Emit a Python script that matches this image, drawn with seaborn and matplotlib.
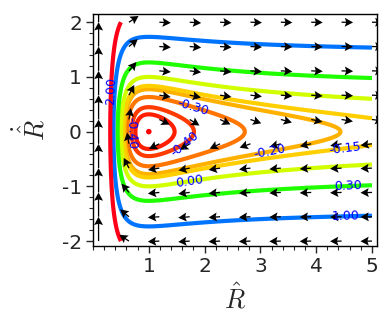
import numpy as np
import matplotlib
matplotlib.use("Agg")
import matplotlib.pyplot as plt
from matplotlib.ticker import MultipleLocator
import seaborn as sns
import pandas as pd

# Energy levels of the radial motion, E = Rdot^2/2 + 1/(2R^2) - 1/R
energy_levels = [-0.45, -0.40, -0.30, -0.20, -0.15, 0.00, 0.30, 1.00, 2.00]
energy_min = -0.5          # energy of the circular orbit (colour scale start)

# Where each contour label sits (R, Rdot), one per level above
label_R = [0.72, 1.65, 1.79, 3.17, 4.52, 1.74, 4.57, 4.52, 0.27]
label_Rdot = [-0.02, -0.24, 0.44, -0.38, -0.31, -0.93, -1.02, -1.59, 0.75]

# Circular orbit (fixed point of the flow)
fixed_R = [1.0]
fixed_Rdot = [0.0]

# Domain of the phase portrait and the arrow grid
R_span = [0.1, 5.0]
Rdot_span = [-2.0, 2.0]
n_arrows = 10

x_ticks = [1, 2, 3, 4, 5]
y_ticks = [-2, -1, 0, 1, 2]


def energy(R, Rd):
    return 0.5 * Rd ** 2 + 0.5 / R ** 2 - 1.0 / R


def flow(R, Rd):
    return Rd, 1.0 / R ** 3 - 1.0 / R ** 2


sns.set_style("ticks")
plt.rcParams["axes.unicode_minus"] = False
plt.rcParams["mathtext.fontset"] = "cm"
plt.rcParams["font.family"] = ["DejaVu Sans"]

fig = plt.figure(figsize=(3.88, 3.31), dpi=100)
ax = fig.add_axes([0.2397, 0.2568, 0.7319, 0.7009])
ax.set_xlim(0.0, 5.09)
ax.set_ylim(-2.09, 2.15)

# Contours of constant energy
Rg = np.linspace(R_span[0], R_span[1], 400)
Rdg = np.linspace(Rdot_span[0], Rdot_span[1], 400)
RR, DD = np.meshgrid(Rg, Rdg)
EE = energy(RR, DD)
cmap = plt.get_cmap("hsv")
norm = plt.Normalize(energy_min, max(energy_levels))
cs = ax.contour(RR, DD, EE, levels=energy_levels,
                colors=[cmap(norm(v)) for v in energy_levels],
                linewidths=3.0, zorder=2)

# Direction field, unit-length arrows drawn from the tail
Ra = np.linspace(R_span[0], R_span[1], n_arrows)
Rda = np.linspace(Rdot_span[0], Rdot_span[1], n_arrows)
AR, AD = np.meshgrid(Ra, Rda)
U, V = flow(AR, AD)
mag = np.hypot(U, V)
arrow_len = np.where(np.isclose(AR, R_span[0]), 0.243, 0.115)  # inches
U = U / mag * arrow_len
V = V / mag * arrow_len
ax.quiver(AR, AD, U, V, angles="xy", scale_units="inches", scale=1.0,
          pivot="tail", color="black", width=0.0045, headwidth=7.0,
          headlength=6.5, headaxislength=5.5, zorder=3)

# Fixed point
fp = pd.DataFrame({"R": fixed_R, "Rdot": fixed_Rdot})
sns.scatterplot(data=fp, x="R", y="Rdot", color="red", s=16,
                edgecolor="none", ax=ax, zorder=4)

# Contour labels
ax.clabel(cs, energy_levels, fmt="%.2f", colors="blue", fontsize=9,
          inline=False, manual=list(zip(label_R, label_Rdot)))

ax.set_xticks(x_ticks)
ax.set_yticks(y_ticks)
ax.set_xticklabels([str(t) for t in x_ticks])
ax.set_yticklabels([str(t) for t in y_ticks])
ax.xaxis.set_minor_locator(MultipleLocator(0.2))
ax.yaxis.set_minor_locator(MultipleLocator(0.2))
ax.tick_params(which="major", direction="out", length=5, width=1,
               labelsize=14.5, top=False, right=False, pad=3)
ax.tick_params(which="minor", direction="out", length=3, width=0.8,
               top=False, right=False)
for s in ax.spines.values():
    s.set_linewidth(1.0)
    s.set_color("black")

ax.set_xlabel(r"$\hat{R}$", fontsize=19, labelpad=6)
ax.set_ylabel(r"$\dot{\hat{R}}$", fontsize=19, labelpad=8)

fig.savefig("out.png", dpi=100)
